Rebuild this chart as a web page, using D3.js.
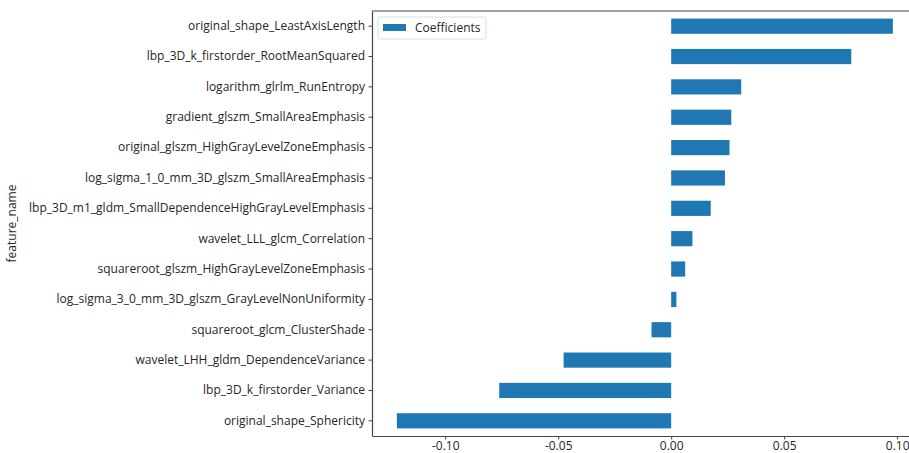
<!DOCTYPE html>
<html>
<head>
<meta charset="utf-8">
<script src="https://cdn.jsdelivr.net/npm/d3@7"></script>
<style>
  body { margin: 0; background: #fff; }
  text { font-family: "Open Sans", sans-serif; fill: #262626; }
</style>
</head>
<body>
<svg width="909" height="453"></svg>
<script>
// feature names, top to bottom
var features = [
    "original_shape_LeastAxisLength",
    "lbp_3D_k_firstorder_RootMeanSquared",
    "logarithm_glrlm_RunEntropy",
    "gradient_glszm_SmallAreaEmphasis",
    "original_glszm_HighGrayLevelZoneEmphasis",
    "log_sigma_1_0_mm_3D_glszm_SmallAreaEmphasis",
    "lbp_3D_m1_gldm_SmallDependenceHighGrayLevelEmphasis",
    "wavelet_LLL_glcm_Correlation",
    "squareroot_glszm_HighGrayLevelZoneEmphasis",
    "log_sigma_3_0_mm_3D_glszm_GrayLevelNonUniformity",
    "squareroot_glcm_ClusterShade",
    "wavelet_LHH_gldm_DependenceVariance",
    "lbp_3D_k_firstorder_Variance",
    "original_shape_Sphericity"
];
var coefficients = [0.0981, 0.0797, 0.0310, 0.0266, 0.0258, 0.0238, 0.0175,
    0.0094, 0.0062, 0.0023, -0.0087, -0.0476, -0.0761, -0.1214];
var xTicks = [-0.10, -0.05, 0.00, 0.05, 0.10];

var svg = d3.select("svg"),
    margin = {top: 11, right: -13, bottom: 17, left: 372},
    width = svg.attr("width") - margin.left - margin.right,
    height = svg.attr("height") - margin.top - margin.bottom,
    g = svg.append("g").attr("transform",
        "translate(" + margin.left + "," + margin.top + ")");

var x = d3.scaleLinear().domain([-0.1324, 0.111]).range([0, width]),
    y = d3.scaleBand().domain(features).range([0, height])
        .paddingInner(0.5).paddingOuter(0.25);

/* bars */
g.selectAll(".bar")
    .data(coefficients)
    .enter().append("rect")
    .attr("class", "bar")
    .attr("x", function(d) { return x(Math.min(0, d)); })
    .attr("y", function(d, i) { return y(features[i]); })
    .attr("width", function(d) { return Math.abs(x(d) - x(0)); })
    .attr("height", y.bandwidth())
    .attr("fill", "#1f77b4");

/* axes */
var xAxis = g.append("g")
    .attr("transform", "translate(0," + height + ")")
    .call(d3.axisBottom(x).tickValues(xTicks).tickFormat(d3.format(".2f"))
        .tickSizeInner(3.5).tickSizeOuter(0).tickPadding(1.5));

var yAxis = g.append("g")
    .call(d3.axisLeft(y).tickSizeInner(3.5).tickSizeOuter(0).tickPadding(3.5));

[xAxis, yAxis].forEach(function(a) {
    a.selectAll("text").style("font-size", "12px")
        .style("font-family", "'Open Sans', sans-serif").attr("fill", "#262626");
    a.selectAll("line").attr("stroke", "#444");
    a.select(".domain").attr("stroke", "#444").attr("stroke-width", 1.2);
});
xAxis.selectAll("text").text(function(d) { return d3.format(".2f")(d).replace("−", "-"); });

// top spine
g.append("line")
    .attr("x1", 0).attr("x2", width).attr("y1", 0).attr("y2", 0)
    .attr("stroke", "#444").attr("stroke-width", 1.2);

/* y label */
svg.append("text")
    .attr("transform", "translate(16," + (margin.top + height / 2) + ") rotate(-90)")
    .attr("text-anchor", "middle")
    .style("font-size", "12px")
    .text("feature_name");

/* legend */
var legend = g.append("g").attr("transform", "translate(6,6)");
legend.append("rect")
    .attr("width", 108).attr("height", 22).attr("rx", 2)
    .attr("fill", "#fff").attr("stroke", "#ddd");
legend.append("rect")
    .attr("x", 5).attr("y", 7).attr("width", 23).attr("height", 7)
    .attr("fill", "#1f77b4");
legend.append("text")
    .attr("x", 37).attr("y", 11).attr("dy", "0.35em")
    .style("font-size", "12px")
    .text("Coefficients");
</script>
</body>
</html>
